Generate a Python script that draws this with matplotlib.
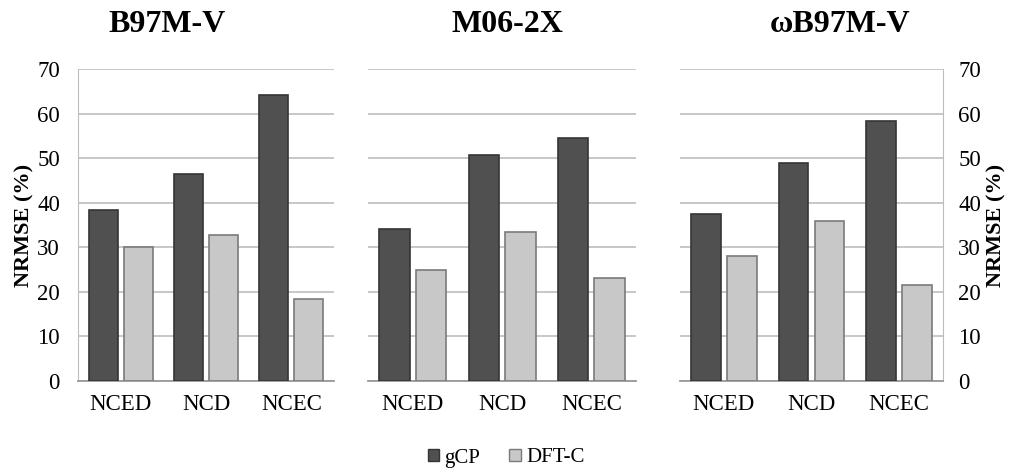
import numpy as np
import matplotlib
matplotlib.use("Agg")
import matplotlib.pyplot as plt
from matplotlib.patches import Patch

plt.rcParams['font.family'] = ['Liberation Serif', 'DejaVu Serif']

methods = ['B97M-V', 'M06-2X', 'ωB97M-V']
categories = ['NCED', 'NCD', 'NCEC']
gcp = [[38.4, 46.4, 64.1],
       [34.2, 50.7, 54.6],
       [37.5, 49.0, 58.4]]
dftc = [[30.1, 32.8, 18.4],
        [24.9, 33.4, 23.0],
        [28.1, 35.9, 21.5]]

dark, dark_edge = '#505050', '#353535'
light, light_edge = '#c8c8c8', '#7a7a7a'
grid_c = '#bdbdbd'

fig = plt.figure(figsize=(10.16, 4.71), dpi=100)
W, H = 1016, 471
# panel boxes in pixels: left, right
boxes = [(78, 334), (368, 636), (680, 943)]
title_x = [167, 507, 840]
top, bottom = 69, 381

x = np.arange(len(categories))
bw = 0.34
off = 0.205

for i, (l, r) in enumerate(boxes):
    ax = fig.add_axes([l / W, 1 - bottom / H, (r - l) / W, (bottom - top) / H])
    ax.bar(x - off, gcp[i], bw, color=dark, edgecolor=dark_edge, linewidth=1.2, zorder=3)
    ax.bar(x + off, dftc[i], bw, color=light, edgecolor=light_edge, linewidth=1.2, zorder=3)
    ax.set_xlim(-0.5, 2.5)
    ax.set_ylim(0, 70)
    ax.set_yticks(range(0, 71, 10))
    ax.yaxis.grid(True, color=grid_c, linewidth=1.2, zorder=0)
    ax.set_xticks(x)
    ax.set_xticklabels(categories, fontsize=16.5)
    ax.tick_params(axis='x', length=0, pad=9)
    for s in ['top', 'left', 'right']:
        ax.spines[s].set_visible(False)
    ax.spines['bottom'].set_color('#999999')
    ax.spines['bottom'].set_linewidth(1.3)
    fig.text(title_x[i] / W, 1 - 25 / H, methods[i], fontsize=23, fontweight='bold',
             ha='center', va='center')
    if i == 0:
        ax.spines['left'].set_visible(True)
        ax.spines['left'].set_color(grid_c)
        ax.tick_params(axis='y', length=0, labelsize=16.5, pad=13)
        ax.set_ylabel('NRMSE (%)', fontsize=16, fontweight='bold', labelpad=2)
    elif i == 2:
        ax.spines['right'].set_visible(True)
        ax.spines['right'].set_color(grid_c)
        ax.yaxis.tick_right()
        ax.yaxis.set_label_position('right')
        ax.tick_params(axis='y', length=0, labelsize=16.5, pad=11)
        ax.set_ylabel('NRMSE (%)', fontsize=16, fontweight='bold', rotation=90, labelpad=4)
    else:
        ax.tick_params(axis='y', length=0, labelleft=False)

handles = [Patch(facecolor=dark, edgecolor=dark_edge, label='gCP'),
           Patch(facecolor=light, edgecolor=light_edge, label='DFT-C')]
fig.legend(handles=handles, loc='center', bbox_to_anchor=(506 / W, 1 - 458 / H), ncol=2,
           frameon=False, fontsize=15, handlelength=0.55, handleheight=0.55,
           handletextpad=0.25, columnspacing=1.4, borderpad=0)

fig.savefig('out.png', dpi=100)
